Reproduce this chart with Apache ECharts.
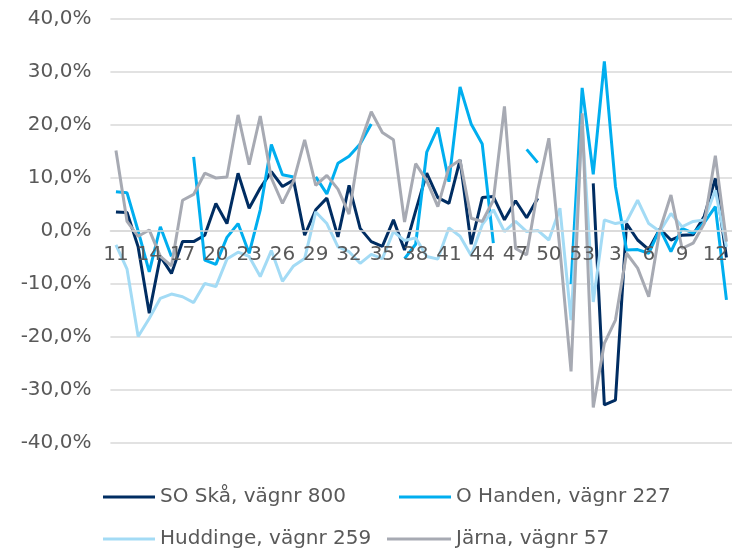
<!DOCTYPE html>
<html>
<head>
<meta charset="utf-8">
<script src="https://cdn.jsdelivr.net/npm/echarts@6/dist/echarts.min.js"></script>
<style>
html, body { margin: 0; padding: 0; background: #fff; }
#chart { width: 732px; height: 549px; }
</style>
</head>
<body>
<div id="chart"></div>
<script>
// veckor, 11-53 och sedan 1-13 (13 hamnar utanför bild)
var weeks = ['11','12','13','14','15','16','17','18','19','20','21','22','23','24','25','26','27','28','29','30',
	'31','32','33','34','35','36','37','38','39','40','41','42','43','44','45','46','47','48','49','50',
	'51','52','53','1','2','3','4','5','6','7','8','9','10','11','12','13'];

// förändring i procent
var soSka = [3.6, 3.5, -3, -15.5, -4.8, -8, -2, -2, -0.8, 5.2, 1.4, 10.9, 4.3, 8.1, 11.2, 8.4, 9.6, -0.8, 4, 6.2,
	-1.1, 8.6, 0.5, -2, -2.9, 2.1, -3.6, 3.8, 10.9, 6.3, 5.2, 13.4, -2.5, 6.3, 6.5, 2.1, 5.7, 2.5, 6.2, null,
	null, null, null, 9, -32.8, -31.9, 1.4, -1.7, -3.5, 0.4, -1.7, -0.8, -0.7, 2.8, 9.9, -5];
var oHanden = [7.4, 7.2, 0, -7.7, 0.8, -4.8, null, 14, -5.5, -6.3, -1.2, 1.4, -4.2, 4, 16.3, 10.6, 10.2, null, 10.2, 7,
	12.8, 14.1, 16.4, 20.2, null, null, -5.2, -2.5, 14.9, 19.5, 9.3, 27.2, 20.2, 16.4, -2.3, null, null, 15.4, 12.9, null,
	null, -10, 27, 10.7, 32, 8.4, -3.6, -3.5, -4.2, 0.4, -3.9, 0.5, -0.4, 1.6, 4.6, -13];
var huddinge = [-2.6, -7.2, -19.9, -16.5, -12.7, -11.9, -12.4, -13.5, -9.9, -10.5, -5.3, -4, -4.8, -8.6, -3.7, -9.5, -6.6, -5.2, 3.6, 1.4,
	-3, -3.9, -6.1, -4.4, -5.2, -0.1, -1.8, -1.3, -4.8, -5.3, 0.6, -1, -4.6, 1.2, 4, -0.1, 1.8, -0.1, 0.1, -1.7,
	4.3, -16.8, 20, -13.4, 2.1, 1.4, 1.8, 5.8, 1.4, -0.1, 3.3, 0.8, 1.8, 2.1, 7.7, -3];
var jarna = [15.2, 1.8, -1, 0.2, -4.8, -6.6, 5.8, 6.9, 10.9, 10, 10.2, 21.9, 12.5, 21.7, 10, 5.2, 9.4, 17.2, 8.6, 10.5,
	7.9, 3.2, 16.5, 22.5, 18.6, 17.2, 1.7, 12.7, 9.5, 4.6, 12, 13.4, 2.4, 1.8, 5.8, 23.5, -3.3, -4.5, 7.7, 17.5,
	-3.5, -26.5, 22.2, -33.3, -21.2, -16.8, -4.2, -7, -12.4, 0.2, 6.8, -3.3, -2.3, 1.4, 14.2, -2];

var names = ['SO Skå, vägnr 800', 'O Handen, vägnr 227', 'Huddinge, vägnr 259', 'Järna, vägnr 57'];
var colors = ['#002d62', '#00aeef', '#a3dbf5', '#a7aab3'];
var font = 'DejaVu Sans';

var myChart = echarts.init(document.getElementById('chart'));

function makeLegend(name, left, top, w) {
	return {
		data: [name],
		left: left,
		top: top,
		icon: 'rect',
		itemWidth: w,
		itemHeight: 3,
		textStyle: { color: '#595959', fontSize: 20, fontFamily: font }
	};
}

function makeSeries(i, values) {
	return {
		name: names[i],
		type: 'line',
		data: values,
		symbol: 'none',
		connectNulls: false,
		lineStyle: { color: colors[i], width: 3 },
		itemStyle: { color: colors[i] }
	};
}

var option = {
	animation: false,
	color: colors,
	grid: { left: 110.4, top: 19, width: 629.4, bottom: 106 },
	legend: [
		makeLegend(names[0], 98, 482, 52),
		makeLegend(names[1], 394, 482, 52),
		makeLegend(names[2], 98, 524, 52),
		makeLegend(names[3], 382, 524, 64)
	],
	xAxis: {
		type: 'category',
		data: weeks,
		boundaryGap: true,
		position: 'bottom',
		offset: -212, // axeln korsar vid 0 %
		z: 10,
		axisLine: { onZero: false, lineStyle: { color: '#d9d9d9', width: 1.5 } },
		axisTick: { show: false },
		axisLabel: { interval: 2, margin: 14, color: '#595959', fontSize: 20, fontFamily: font }
	},
	yAxis: {
		type: 'value',
		min: -40,
		max: 40,
		interval: 10,
		axisLine: { show: false },
		axisTick: { show: false },
		splitLine: { lineStyle: { color: '#d9d9d9', width: 1.5 } },
		axisLabel: {
			margin: 19,
			color: '#595959',
			fontSize: 20,
			fontFamily: font,
			formatter: function(v) { return v.toFixed(1).replace('.', ',') + '%'; }
		}
	},
	series: [
		makeSeries(0, soSka),
		makeSeries(1, oHanden),
		makeSeries(2, huddinge),
		makeSeries(3, jarna)
	]
};

myChart.setOption(option, true);
</script>
</body>
</html>
